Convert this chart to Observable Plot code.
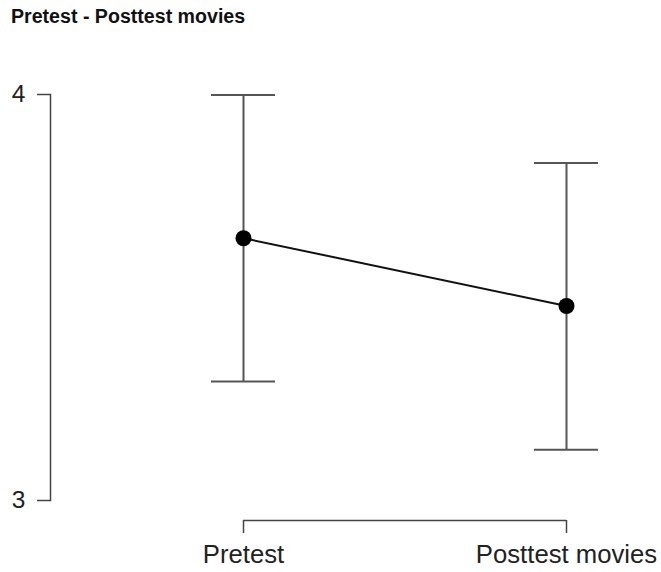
<!DOCTYPE html>
<html>
<head>
<meta charset="utf-8">
<script src="https://cdn.jsdelivr.net/npm/d3@7"></script>
<script src="https://cdn.jsdelivr.net/npm/@observablehq/plot@0.6"></script>
<style>
  html, body { margin: 0; padding: 0; background: #fff; }
  #title { font-family: "Liberation Sans", Arial, sans-serif; font-weight: bold; font-size: 19.6px;
           height: 32px; line-height: 32px; padding-left: 11px; color: #111; white-space: nowrap; }
</style>
</head>
<body>
<div id="title">Pretest - Posttest movies</div>
<div id="chart"></div>
<script>
const conditions = ["Pretest", "Posttest movies"];
const means = [3.646, 3.479];
const lower = [3.293, 3.125];
const upper = [3.999, 3.831];
const yTicks = [3, 4];

const data = conditions.map((c, i) => ({c, mean: means[i], lo: lower[i], hi: upper[i]}));

const chart = Plot.plot({
  width: 661,
  height: 540,
  marginLeft: 50,
  marginRight: 95,
  marginTop: 62,
  marginBottom: 72,
  style: {fontFamily: '"Liberation Sans", Arial, sans-serif', background: "#fff", color: "#222"},
  x: {type: "point", domain: conditions, range: [243, 566], padding: 0},
  y: {domain: [3, 4]},
  marks: [
    Plot.frame({anchor: "left", stroke: "#444", strokeWidth: 1.5}),
    Plot.axisY({ticks: yTicks, tickSize: 13, tickPadding: 12, fontSize: 24.5, stroke: "#444", strokeWidth: 1.5, label: null, tickFormat: d => String(d)}),
    Plot.ruleY([yTicks[0]], {x1: () => conditions[0], x2: () => conditions[1], dy: 20, stroke: "#444", strokeWidth: 1.5}),
    Plot.axisX({dy: 20, tickSize: 13, tickPadding: 11, fontSize: 25.7, stroke: "#444", strokeWidth: 1.5, label: null}),
    Plot.ruleX(data, {x: "c", y1: "lo", y2: "hi", stroke: "#555", strokeWidth: 2}),
    Plot.ruleY(data, {x1: "c", x2: "c", y: "hi", insetLeft: -32, insetRight: -32, stroke: "#555", strokeWidth: 2}),
    Plot.ruleY(data, {x1: "c", x2: "c", y: "lo", insetLeft: -32, insetRight: -32, stroke: "#555", strokeWidth: 2}),
    Plot.line(data, {x: "c", y: "mean", stroke: "#111", strokeWidth: 2}),
    Plot.dot(data, {x: "c", y: "mean", r: 8, fill: "#000", stroke: "none"})
  ]
});
document.getElementById("chart").appendChild(chart);
</script>
</body>
</html>
